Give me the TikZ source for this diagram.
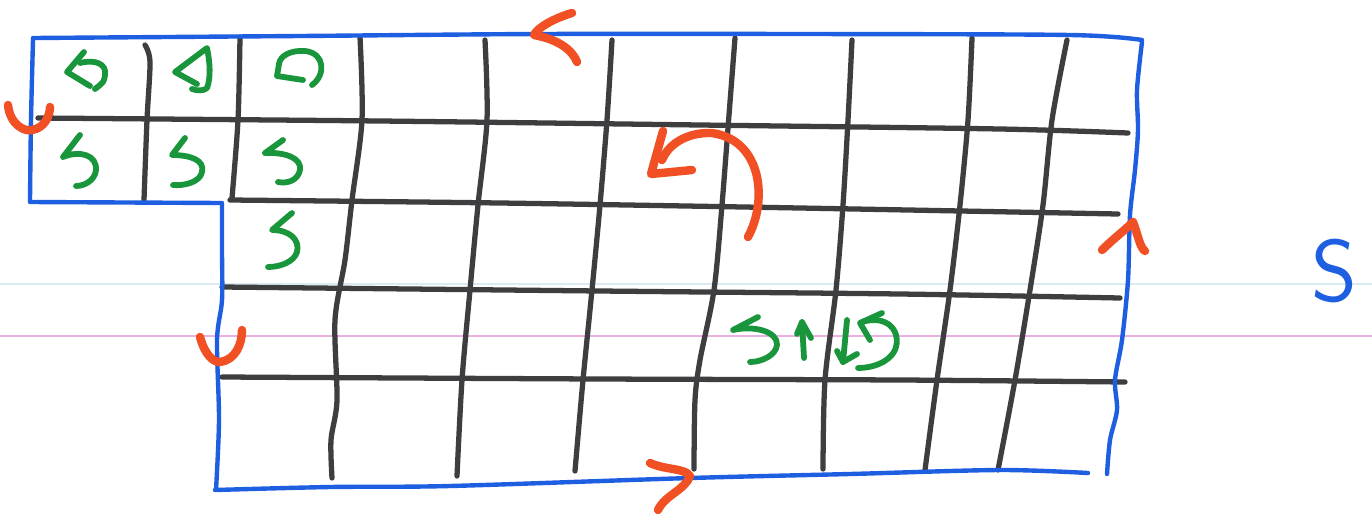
\documentclass[tikz,border=0pt]{standalone}
\usetikzlibrary{arrows.meta}
\definecolor{penblue}{RGB}{30,95,225}
\definecolor{pengrid}{RGB}{62,62,64}
\definecolor{pengreen}{RGB}{25,150,60}
\definecolor{penred}{RGB}{240,80,35}
\definecolor{rulepink}{RGB}{236,175,228}
\definecolor{rulecyan}{RGB}{218,236,242}
\begin{document}
\begin{tikzpicture}[x=0.02cm,y=-0.02cm,line cap=round,line join=round,
  blueline/.style={draw=penblue,line width=2.5pt},
  gridline/.style={draw=pengrid,line width=3pt},
  greenpen/.style={draw=pengreen,line width=3.3pt},
  redpen/.style={draw=penred,line width=4.8pt},
  ruleline/.style={line width=0.6pt}]
\fill[white] (0,0) rectangle (1372,518);
\useasboundingbox (0,0) rectangle (1372,518);
% paper rule lines
\draw[ruleline,draw=rulecyan] (0,284) -- (1372,284);
\draw[ruleline,draw=rulepink] (0,336) -- (1372,336);
% grid horizontals
\draw[gridline] plot[smooth] coordinates {(38,118) (380,121) (700,125) (1000,129) (1128,133)};
\draw[gridline] plot[smooth] coordinates {(230,200) (500,203) (800,208) (1118,214)};
\draw[gridline] plot[smooth] coordinates {(222,287) (600,291) (900,294) (1120,298)};
\draw[gridline] plot[smooth] coordinates {(222,377) (600,379) (900,380) (1125,382)};
% grid verticals
\draw[gridline] plot[smooth] coordinates {(145,45) (150,62) (147,120) (144,200)};
\draw[gridline] plot[smooth] coordinates {(240,37) (238,120) (232,198)};
\draw[gridline] plot[smooth] coordinates {(360,37) (362,120) (352,200) (345,260) (335,320) (337,400) (331,440) (332,478)};
\draw[gridline] plot[smooth] coordinates {(485,40) (487,120) (478,205) (470,290) (462,380) (457,476)};
\draw[gridline] plot[smooth] coordinates {(612,40) (607,120) (600,205) (592,290) (583,380) (575,471)};
\draw[gridline] plot[smooth] coordinates {(735,38) (729,115) (722,205) (714,290) (700,360) (695,400) (694,469)};
\draw[gridline] plot[smooth] coordinates {(852,40) (848,120) (843,205) (836,290) (825,380) (823,469)};
\draw[gridline] plot[smooth] coordinates {(972,38) (968,120) (960,205) (950,290) (937,380) (925,470)};
\draw[gridline] plot[smooth] coordinates {(1067,40) (1052,120) (1043,205) (1030,290) (1015,380) (998,470)};
% blue outline
\draw[blueline] plot[smooth] coordinates {(1088,473) (1000,470) (850,474) (690,478) (450,486) (330,487) (215,490)}
  -- plot[smooth] coordinates {(216,490) (219,420) (217,340) (222,300) (222,250) (222,203)}
  -- (30,202)
  -- plot[smooth] coordinates {(30,200) (31,120) (33,40)}
  -- plot[smooth] coordinates {(33,38) (300,36) (540,34) (800,34) (1070,35) (1142,40)};
\draw[blueline] plot[smooth] coordinates {(1142,42) (1137,90) (1138,130) (1135,170) (1130,215) (1128,280) (1122,340) (1115,380) (1117,410) (1110,440) (1107,474)};
% red direction marks
\draw[redpen] (572,13) .. controls (555,18) and (538,27) .. (534,35) .. controls (550,38) and (570,45) .. (577,62);
\draw[redpen] (8,105) .. controls (10,125) and (25,132) .. (32,130) .. controls (45,128) and (50,115) .. (50,107);
\draw[redpen] (200,337) .. controls (205,355) and (213,362) .. (220,362) .. controls (235,360) and (242,345) .. (242,330);
\draw[redpen] (650,463) .. controls (665,470) and (685,468) .. (690,476) .. controls (685,490) and (665,495) .. (658,510);
\draw[redpen] (1102,250) .. controls (1112,240) and (1125,230) .. (1133,222) .. controls (1138,235) and (1140,248) .. (1145,251);
\draw[redpen] (748,237) .. controls (768,200) and (762,140) .. (712,133) .. controls (686,132) and (668,145) .. (662,160);
\draw[redpen] (663,131) -- (651,174) -- (692,170);
% green curls
\draw[greenpen] (84,52) -- (67,72) -- (90,86);
\draw[greenpen] (80,63) .. controls (95,59) and (107,64) .. (105,75) .. controls (104,82) .. (95,89);
\draw[greenpen] (197,84) -- (175,72) -- (207,48) .. controls (210,62) and (211,78) .. (207,88) .. controls (204,91) and (197,91) .. (192,89);
\draw[greenpen] (312,85) .. controls (326,75) and (325,53) .. (305,51) .. controls (290,50) and (280,56) .. (279,64) -- (277,76) -- (303,80);
\draw[greenpen] (80,135) -- (63,157) .. controls (80,150) and (97,155) .. (96,170) .. controls (95,180) and (85,186) .. (76,186);
\draw[greenpen] (185,138) -- (172,155) .. controls (190,155) and (205,160) .. (202,172) .. controls (200,182) and (185,186) .. (173,185);
\draw[greenpen] (283,140) -- (265,153) .. controls (285,152) and (302,158) .. (300,170) .. controls (298,180) and (288,184) .. (278,182);
\draw[greenpen] (292,213) -- (272,230) .. controls (290,230) and (300,240) .. (297,252) .. controls (294,262) and (280,267) .. (268,267);
\draw[greenpen] (758,317) -- (733,330) .. controls (755,325) and (778,332) .. (777,345) .. controls (776,355) and (762,362) .. (750,362);
\draw[greenpen] (804,358) -- (802,322);
\draw[greenpen] (797,334) -- (802,322) -- (811,338);
\draw[greenpen] (847,320) -- (843,362);
\draw[greenpen] (837,351) -- (843,362) -- (857,354);
\draw[greenpen] (882,313) -- (860,323) -- (870,340);
\draw[greenpen] (862,322) .. controls (888,314) and (902,332) .. (895,350) .. controls (888,364) and (870,368) .. (858,368);
% label
\node[text=penblue,font=\sffamily\fontsize{50}{50}\selectfont,inner sep=0pt] (S) at (1334,271) {S};
\end{tikzpicture}
\end{document}
